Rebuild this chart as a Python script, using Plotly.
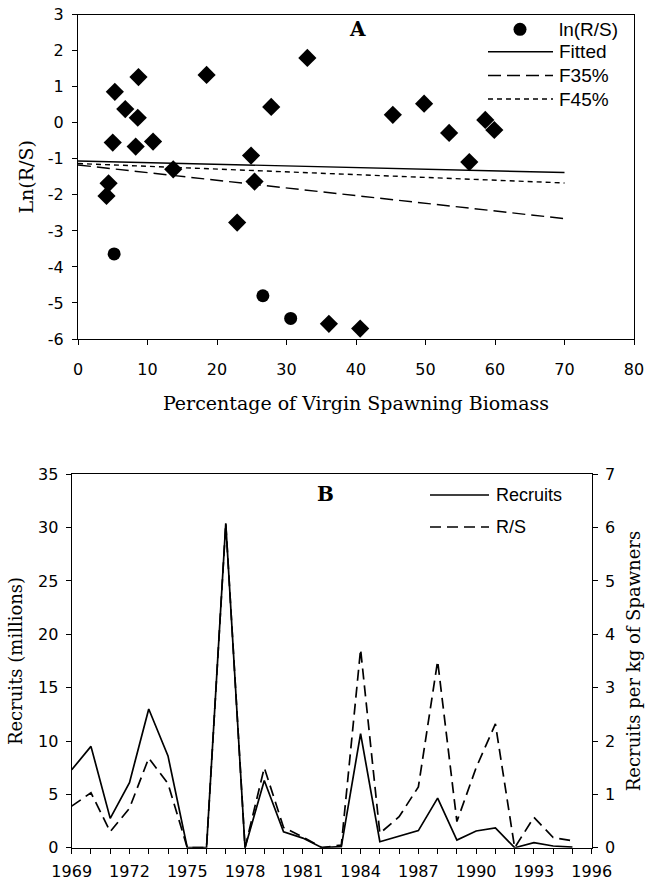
import plotly.graph_objects as go

# ---------------- Panel A data ----------------
diamond_x = [5.3, 6.8, 8.7, 8.6, 5.0, 8.3, 10.8, 13.7, 4.4, 4.1, 18.5, 27.8, 33.0, 24.9, 25.4, 22.9,
             36.1, 40.6, 45.3, 49.8, 53.4, 58.6, 59.9, 56.3]
diamond_y = [0.86, 0.38, 1.27, 0.14, -0.55, -0.66, -0.52, -1.29, -1.68, -2.03, 1.33, 0.44, 1.80, -0.91,
             -1.63, -2.77, -5.58, -5.71, 0.22, 0.53, -0.28, 0.08, -0.20, -1.09]
circle_x = [5.2, 26.6, 30.6]
circle_y = [-3.64, -4.80, -5.43]

line_x = [0, 70]
fitted_y = [-1.06, -1.38]
f35_y = [-1.17, -2.66]
f45_y = [-1.13, -1.67]

a_xticks = [0, 10, 20, 30, 40, 50, 60, 70, 80]
a_yticks = [3, 2, 1, 0, -1, -2, -3, -4, -5, -6]
a_yticktext = ["3", "2", "1", "0", "-1", "-2", "-3", "-4", "-5", "-6"]
a_legend = ["ln(R/S)", "Fitted", "F35%", "F45%"]

# ---------------- Panel B data ----------------
years = list(range(1969, 1996))
recruits = [7.3, 9.5, 2.75, 6.1, 13.0, 8.6, 0.0, 0.0, 30.4, 0.0, 6.3, 1.5, 0.9, 0.0, 0.1,
            10.7, 0.56, 1.1, 1.6, 4.65, 0.72, 1.57, 1.85, 0.0, 0.47, 0.16, 0.05]
rs = [0.78, 1.03, 0.30, 0.74, 1.68, 1.20, 0.0, 0.0, 6.08, 0.0, 1.50, 0.38, 0.20, 0.0, 0.05,
      3.72, 0.27, 0.58, 1.14, 3.50, 0.49, 1.50, 2.32, 0.0, 0.57, 0.19, 0.13]
b_xticks = [1969, 1972, 1975, 1978, 1981, 1984, 1987, 1990, 1993, 1996]
b_legend = ["Recruits", "R/S"]

W, H = 646, 888
TICKFONT = dict(family="DejaVu Sans", size=16, color="black")
TITLEFONT_A = dict(family="DejaVu Serif", size=19, color="black")
TITLEFONT_B = dict(family="DejaVu Serif", size=18, color="black")
LEGFONT_A = dict(family="Liberation Sans", size=19, color="black")
LEGFONT_B = dict(family="Liberation Sans", size=18, color="black")

DASH_F35 = "13px,6px"
DASH_F45 = "5px,4px"
DASH_RS = "11px,6px"


def px(x):
    return x / W


def py(y):
    return 1 - y / H


fig = go.Figure()

# Panel A
fig.add_trace(go.Scatter(x=diamond_x, y=diamond_y, mode="markers", xaxis="x", yaxis="y",
                         marker=dict(symbol="diamond", size=14, color="black"), showlegend=False))
fig.add_trace(go.Scatter(x=circle_x, y=circle_y, mode="markers", xaxis="x", yaxis="y", name=a_legend[0],
                         marker=dict(symbol="circle", size=13, color="black"), showlegend=False))
fig.add_trace(go.Scatter(x=line_x, y=fitted_y, mode="lines", xaxis="x", yaxis="y", name=a_legend[1],
                         line=dict(color="black", width=1.4), showlegend=False))
fig.add_trace(go.Scatter(x=line_x, y=f35_y, mode="lines", xaxis="x", yaxis="y", name=a_legend[2],
                         line=dict(color="black", width=1.4, dash=DASH_F35), showlegend=False))
fig.add_trace(go.Scatter(x=line_x, y=f45_y, mode="lines", xaxis="x", yaxis="y", name=a_legend[3],
                         line=dict(color="black", width=1.4, dash=DASH_F45), showlegend=False))

# Panel B
fig.add_trace(go.Scatter(x=years, y=rs, mode="lines", xaxis="x2", yaxis="y3", name=b_legend[1],
                         line=dict(color="black", width=1.7, dash=DASH_RS), showlegend=False))
fig.add_trace(go.Scatter(x=years, y=recruits, mode="lines", xaxis="x2", yaxis="y2", name=b_legend[0],
                         line=dict(color="black", width=1.7), showlegend=False))

axis_common = dict(showline=True, linecolor="black", linewidth=1.3, ticks="outside", ticklen=5,
                   tickcolor="black", tickwidth=1.3, showgrid=False, zeroline=False,
                   tickfont=TICKFONT, automargin=False)

# Legend keys (drawn as shapes) and labels
shapes = []
annotations = []
# Panel A legend
shapes.append(dict(type="circle", xref="paper", yref="paper", x0=px(513.5), x1=px(526.5),
                   y0=py(35.8), y1=py(22.8), fillcolor="black", line=dict(color="black", width=0)))
a_rows = [29.3, 51.7, 75.5, 99.0]
a_dashes = [None, "solid", DASH_F35, DASH_F45]
for i, lab in enumerate(a_legend):
    if a_dashes[i] is not None:
        shapes.append(dict(type="line", xref="paper", yref="paper", x0=px(488), x1=px(553),
                           y0=py(a_rows[i]), y1=py(a_rows[i]),
                           line=dict(color="black", width=1.4, dash=a_dashes[i])))
    annotations.append(dict(text=lab, xref="paper", yref="paper", x=px(557), y=py(a_rows[i]),
                            xanchor="left", yanchor="middle", showarrow=False, font=LEGFONT_A))
# Panel B legend
b_rows = [495.0, 527.0]
b_dashes = ["solid", DASH_RS]
for i, lab in enumerate(b_legend):
    shapes.append(dict(type="line", xref="paper", yref="paper", x0=px(430), x1=px(489),
                       y0=py(b_rows[i]), y1=py(b_rows[i]),
                       line=dict(color="black", width=1.7, dash=b_dashes[i])))
    annotations.append(dict(text=lab, xref="paper", yref="paper", x=px(494), y=py(b_rows[i]),
                            xanchor="left", yanchor="middle", showarrow=False, font=LEGFONT_B))

annotations += [
    dict(text="<b>A</b>", x=40.2, y=2.6, xref="x", yref="y", showarrow=False,
         font=dict(family="DejaVu Serif", size=20, color="black")),
    dict(text="<b>B</b>", x=1982.2, y=33.2, xref="x2", yref="y2", showarrow=False,
         font=dict(family="DejaVu Serif", size=20, color="black")),
]

fig.update_layout(
    width=W, height=H, margin=dict(l=0, r=0, t=0, b=0),
    paper_bgcolor="white", plot_bgcolor="white", showlegend=False,
    xaxis=dict(domain=[78 / W, 634 / W], range=[0, 80], tickvals=a_xticks, anchor="y", mirror=True,
               ticklabelstandoff=11,
               title=dict(text="Percentage of Virgin Spawning Biomass", font=TITLEFONT_A, standoff=18),
               **axis_common),
    yaxis=dict(domain=[1 - 339 / H, 1 - 14.7 / H], range=[-6, 3], tickvals=a_yticks, ticktext=a_yticktext,
               anchor="x", mirror=True, ticklabelstandoff=5,
               title=dict(text="Ln(R/S)", font=TITLEFONT_A, standoff=9), **axis_common),
    xaxis2=dict(domain=[71.7 / W, 591.7 / W], range=[1969, 1996], tickvals=b_xticks, anchor="y2",
                mirror=True, ticklabelstandoff=4,
                minor=dict(dtick=1, tick0=1969, ticks="outside", ticklen=5, tickcolor="black",
                           tickwidth=1.3), **axis_common),
    yaxis2=dict(domain=[1 - 847.7 / H, 1 - 474.3 / H], range=[0, 35], dtick=5, anchor="x2",
                ticklabelstandoff=4,
                title=dict(text="Recruits (millions)", font=TITLEFONT_B, standoff=10), **axis_common),
    yaxis3=dict(range=[0, 7], dtick=1, anchor="x2", overlaying="y2", side="right", ticklabelstandoff=4,
                title=dict(text="Recruits per kg of Spawners", font=TITLEFONT_B, standoff=13), **axis_common),
    shapes=shapes,
    annotations=annotations,
)

fig.write_html("out.html")
